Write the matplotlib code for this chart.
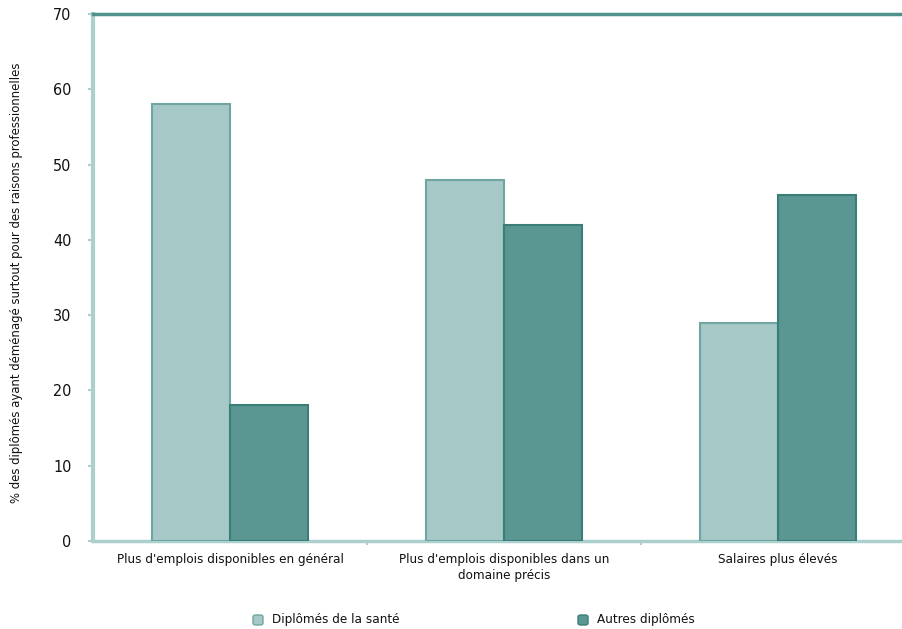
import matplotlib
matplotlib.use("Agg")
import matplotlib.pyplot as plt
import numpy as np
from matplotlib.patches import FancyBboxPatch

plt.rcParams['font.family'] = ['DejaVu Sans']
plt.rcParams['font.stretch'] = 'condensed'

categories = ["Plus d'emplois disponibles en général",
              "Plus d'emplois disponibles dans un\ndomaine précis",
              "Salaires plus élevés"]
sante = [58, 48, 29]
autres = [18, 42, 46]
series_names = ["Diplômés de la santé", "Autres diplômés"]
y_ticks = [0, 10, 20, 30, 40, 50, 60, 70]

light_fill, light_edge = "#a6c8c6", "#6fa6a1"
dark_fill, dark_edge = "#5a9792", "#3b7e78"
spine_col = "#acd0cd"
top_col = "#4f918b"
text_col = "#111111"

W, H = 902, 629
fig = plt.figure(figsize=(W / 100, H / 100), dpi=100)
left, right, top, bottom = 93, 915, 14, 541
ax = fig.add_axes([left / W, 1 - bottom / H, (right - left) / W, (bottom - top) / H])

x = np.arange(len(categories)) + 0.5
w = 0.285
ax.bar(x - w / 2, sante, width=w, color=light_fill, edgecolor=light_edge, linewidth=1.5, zorder=3)
ax.bar(x + w / 2, autres, width=w, color=dark_fill, edgecolor=dark_edge, linewidth=1.5, zorder=3)

ax.set_xlim(0, 3)
ax.set_ylim(0, 70)
ax.set_yticks(y_ticks)
ax.set_yticklabels([str(v) for v in y_ticks], fontsize=11.5, color=text_col)
ax.set_xticks([1, 2], minor=False)
ax.set_xticklabels([])
ax.set_xticks(x, minor=True)
ax.set_xticklabels(categories, minor=True, fontsize=9.6, color=text_col, linespacing=1.3)
ax.tick_params(axis='x', which='minor', length=0, pad=8.5)
ax.tick_params(axis='x', which='major', length=3, direction='out', color=spine_col, width=1.5)
ax.tick_params(axis='y', length=3.6, direction='out', color=spine_col, width=1.5, pad=12)

ax.spines['right'].set_visible(False)
ax.spines['left'].set_color(spine_col)
ax.spines['left'].set_linewidth(3)
ax.spines['bottom'].set_color(spine_col)
ax.spines['bottom'].set_linewidth(2.5)
ax.spines['top'].set_color(top_col)
ax.spines['top'].set_linewidth(2.5)
ax.spines['top'].set_zorder(4)

fig.text(17 / W, 1 - 283 / H,
         "% des diplômés ayant déménagé surtout pour des raisons professionnelles",
         rotation=90, ha='center', va='center', fontsize=9.4, color=text_col)

# legend: small rounded swatches followed by labels
legend_items = [(253, light_fill, light_edge), (578, dark_fill, dark_edge)]
for (sx, fc, ec), name in zip(legend_items, series_names):
    fig.patches.append(FancyBboxPatch((sx / W, 1 - 625 / H), 10 / W, 10 / H,
                                      boxstyle="round,pad=0,rounding_size=0.003",
                                      facecolor=fc, edgecolor=ec, linewidth=1,
                                      transform=fig.transFigure, figure=fig))
    fig.text((sx + 19) / W, 1 - 620 / H, name, ha='left', va='center',
             fontsize=9.6, color=text_col)

fig.savefig("out.png", dpi=100)
